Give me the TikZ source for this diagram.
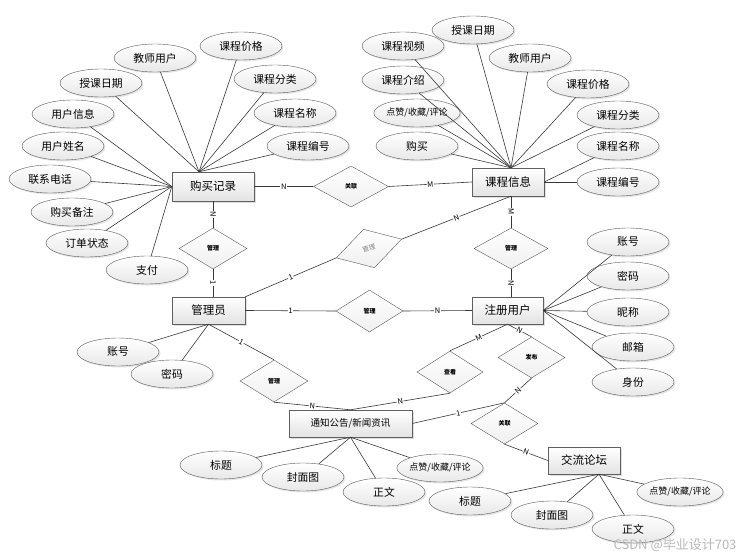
\documentclass[tikz,border=0pt]{standalone}
\usepackage{fontspec}
\setmainfont{Noto Sans CJK SC}
\usetikzlibrary{shapes.geometric,shadows,calc}

\tikzset{
  entity/.style={draw=gray!75!black, minimum width=72pt, minimum height=27pt, inner sep=1pt,
    top color=white, bottom color=gray!22,
    drop shadow={opacity=0.25, shadow xshift=1.5pt, shadow yshift=-1.5pt},
    font=\fontsize{11.5}{12}\selectfont},
  attr/.style={ellipse, draw=gray!70!black, minimum width=82pt, minimum height=28pt, inner sep=0pt,
    top color=white, bottom color=gray!18,
    drop shadow={opacity=0.2, shadow xshift=1.5pt, shadow yshift=-1.5pt},
    font=\fontsize{10.8}{11}\selectfont},
  small/.style={font=\fontsize{9}{9}\selectfont},
  rel/.style={diamond, draw=gray!70!black, minimum width=68pt, minimum height=41pt, inner sep=0pt,
    top color=white, bottom color=gray!12, font=\fontsize{6}{6}\selectfont\bfseries},
  lk/.style={draw=gray!45!black, line width=0.6pt},
  card/.style={font=\fontsize{7.5}{7.5}\selectfont, fill=white, inner sep=0.6pt, sloped}
}

\begin{document}
\begin{tikzpicture}[x=1pt,y=-1pt]
\fill[white] (0,0) rectangle (752,559);
\useasboundingbox (0,0) rectangle (752,559);

% entities
\node[entity, minimum width=82pt, minimum height=29pt] (gmjl) at (213,186.5) {购买记录};
\node[entity, minimum height=28pt] (kcxx) at (508,182) {课程信息};
\node[entity, minimum width=73pt] (gly) at (208.5,310.5) {管理员};
\node[entity, minimum width=71pt] (zcyh) at (507.5,310.5) {注册用户};
\node[entity, minimum width=123pt, font=\fontsize{9.5}{10}\selectfont] (tzgg) at (350.5,423.5) {通知公告/新闻资讯};
\node[entity] (jllt) at (584,460.5) {交流论坛};

% relations
\node[rel, minimum width=75pt] (gl1) at (351,186.5) {关联};
\node[rel] (gl2) at (213,248.5) {管理};
\node[rel, minimum height=40pt, rotate=16, text=gray, font=\fontsize{6.5}{6.5}\selectfont] (gl3) at (369,248.5) {管理};
\node[rel, minimum width=74pt] (gl4) at (511,248.5) {管理};
\node[rel, minimum width=67pt, minimum height=42pt] (gl5) at (369.5,311) {管理};
\node[rel, minimum height=42pt] (gl6) at (274,381) {管理};
\node[rel, minimum width=66pt, minimum height=42pt] (ck) at (450,372) {查看};
\node[rel, minimum width=67pt] (fb) at (531.5,357.5) {发布};
\node[rel, minimum width=67pt] (gl7) at (504.5,423.5) {关联};

\coordinate (gmjlT) at ($(gmjl.north)+(-14,0)$);
\coordinate (kcxxT) at (gl4.north |- kcxx.north);
\coordinate (kcxxB) at (gl4.north |- kcxx.south);
\coordinate (jlltB) at ($(jllt.south)+(15,0)$);

% connectors
\draw[lk] (gmjl.east) -- node[card] {N} (gl1.west);
\draw[lk] (gl1.east) -- node[card] {M} (kcxx.west);
\draw[lk] (gmjl.south) -- node[card] {N} (gl2.north);
\draw[lk] (gl2.south) -- node[card] {1} (gl2.south |- gly.north);
\draw[lk] (gly.north east) -- node[card] {1} (gl3.west);
\draw[lk] (gl3.east) -- node[card] {N} (kcxxB);
\draw[lk] (kcxxB) -- node[card] {M} (gl4.north);
\draw[lk] (gl4.south) -- node[card] {N} (gl4.south |- zcyh.north);
\draw[lk] (gly.east) -- node[card] {1} (gl5.west);
\draw[lk] (gl5.east) -- node[card] {N} (zcyh.west);
\draw[lk] (gly.south) -- node[card] {1} (gl6.north);
\draw[lk] (gl6.south) -- node[card] {N} (tzgg.north);
\draw[lk] (tzgg.north) -- node[card] {N} (ck.south);
\draw[lk] (ck.north) -- node[card] {M} (zcyh.south);
\draw[lk] (zcyh.south) -- node[card] {N} (fb.north);
\draw[lk] (fb.south) -- node[card] {N} (gl7.north);
\draw[lk] (tzgg.east) -- node[card] {1} (gl7.north);
\draw[lk] (gl7.south) -- node[card] {N} (jllt.west);

% attributes of 购买记录
\node[attr] (a1) at (241,46) {课程价格};
\node[attr] (a2) at (155,58) {教师用户};
\node[attr] (a3) at (101,83) {授课日期};
\node[attr] (a4) at (275,79) {课程分类};
\node[attr] (a5) at (295,113) {课程名称};
\node[attr] (a6) at (308,146) {课程编号};
\node[attr] (a7) at (73,114) {用户信息};
\node[attr] (a8) at (63,146) {用户姓名};
\node[attr] (a9) at (50,179) {联系电话};
\node[attr] (a10) at (72,212) {购买备注};
\node[attr] (a11) at (87,243) {订单状态};
\node[attr] (a12) at (147,270) {支付};
\foreach \a in {a1,a2,a3,a4,a5,a6} \draw[lk] (\a) -- (gmjlT);
\foreach \a in {a7,a8,a9,a10,a11,a12} \draw[lk] (\a) -- (gmjl.west);

% attributes of 课程信息
\node[attr] (b1) at (473,30) {授课日期};
\node[attr] (b2) at (403,46) {课程视频};
\node[attr] (b3) at (530,58) {教师用户};
\node[attr] (b4) at (403,80) {课程介绍};
\node[attr] (b5) at (588,84) {课程价格};
\node[attr, small] (b6) at (417,113) {点赞/收藏/评论};
\node[attr] (b7) at (618,115) {课程分类};
\node[attr] (b8) at (417,146) {购买};
\node[attr] (b9) at (618,146) {课程名称};
\node[attr] (b10) at (618,182) {课程编号};
\foreach \a in {b1,b2,b3,b4,b5,b6,b7,b8} \draw[lk] (\a) -- (kcxxT);
\foreach \a in {b9,b10} \draw[lk] (\a) -- (kcxx.east);

% attributes of 注册用户
\node[attr] (c1) at (628,242) {账号};
\node[attr] (c2) at (628,276) {密码};
\node[attr] (c3) at (628,312) {昵称};
\node[attr] (c4) at (633,347) {邮箱};
\node[attr] (c5) at (633,382) {身份};
\foreach \a in {c1,c2,c3,c4,c5} \draw[lk] (\a) -- (zcyh.east);

% attributes of 管理员
\node[attr] (d1) at (118,352) {账号};
\node[attr] (d2) at (172,374) {密码};
\foreach \a in {d1,d2} \draw[lk] (\a) -- (gly.south);

% attributes of 通知公告/新闻资讯
\node[attr] (e1) at (221,465) {标题};
\node[attr] (e2) at (303,477) {封面图};
\node[attr] (e3) at (384,492) {正文};
\node[attr, small] (e4) at (440,468) {点赞/收藏/评论};
\foreach \a in {e1,e2,e3,e4} \draw[lk] (\a) -- (tzgg.south);

% attributes of 交流论坛
\node[attr] (f1) at (470,501) {标题};
\node[attr] (f2) at (552,515) {封面图};
\node[attr] (f3) at (633,529) {正文};
\node[attr, small] (f4) at (680,492) {点赞/收藏/评论};
\foreach \a in {f1,f2,f3,f4} \draw[lk] (\a) -- (jlltB);

\node[text=gray!55, font=\fontsize{13}{13}\selectfont] (wm) at (675,545) {CSDN @毕业设计703};
\end{tikzpicture}
\end{document}
